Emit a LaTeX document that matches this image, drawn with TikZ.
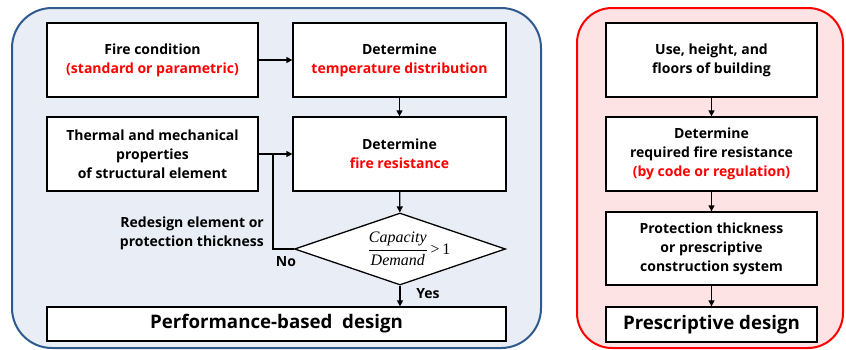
\documentclass[tikz,border=0pt]{standalone}
\usepackage{fontspec}
\setmainfont{Open Sans}
\newfontfamily\tms{Liberation Serif}
\usetikzlibrary{arrows.meta,shapes.geometric}
\definecolor{pbfill}{HTML}{E9EEF6}
\definecolor{pbline}{HTML}{2E5A8E}
\definecolor{prfill}{HTML}{FDE3E4}
\definecolor{prline}{HTML}{FF0000}
\definecolor{redtxt}{HTML}{FF0000}
\tikzset{
  fbox/.style={draw=black, fill=white, line width=1.3pt, align=center, inner sep=0pt,
    font=\bfseries\fontsize{14}{19}\selectfont},
  bigbox/.style={fbox, font=\bfseries\fontsize{18.7}{22}\selectfont},
  conn/.style={line width=1.3pt, -{Triangle[length=6pt,width=6pt]}},
  plain/.style={line width=1.3pt},
  lbl/.style={font=\bfseries\fontsize{14}{19}\selectfont, inner sep=0pt},
}
\begin{document}
\begin{tikzpicture}[x=1pt,y=-1pt]
\useasboundingbox (0,0) rectangle (846,349);
% panels
\draw[line width=2pt, draw=pbline, fill=pbfill, rounded corners=40pt] (12,8) rectangle (541,348);
\draw[line width=2pt, draw=prline, fill=prfill, rounded corners=35pt] (577,8) rectangle (843,348);
% left boxes
\node[fbox, minimum width=211pt, minimum height=74pt] (fc) at (152.5,60)
  {Fire condition\\\textcolor{redtxt}{(standard or parametric)}};
\node[fbox, minimum width=213pt, minimum height=74pt] (td) at (399.5,60)
  {Determine\\\textcolor{redtxt}{temperature distribution}};
\node[fbox, minimum width=211pt, minimum height=74pt] (th) at (152.5,154)
  {Thermal and mechanical\\properties\\of structural element};
\node[fbox, minimum width=213pt, minimum height=74pt] (fr) at (399.5,154)
  {Determine\\\textcolor{redtxt}{fire resistance}};
\node[draw=black, fill=white, line width=1.3pt, shape=diamond, aspect=2.93,
  minimum width=211pt, minimum height=72pt, inner sep=0pt] (dm) at (400,249)
  {\hspace*{18pt}\fontsize{16}{18}\selectfont$\displaystyle\frac{\mbox{\tms\itshape Capacity}}{\mbox{\tms\itshape Demand}}\mbox{\tms\,>\,1}$};
\node[bigbox, minimum width=459pt, minimum height=34pt] (pb) at (276.5,324)
  {Performance-based\ \ design};
% labels
\node[lbl, align=right, anchor=east] (rd) at (264,233) {Redesign element or\\protection thickness};
\node[lbl] (no) at (286,262) {No};
\node[lbl] (yes) at (428,294) {Yes};
% left connectors
\coordinate (fb) at (273,154);
\draw[conn] (fc) -- (td);
\draw[conn] (td) -- (fr);
\draw[conn] (th) -- (fr);
\draw[conn] (fr) -- (dm);
\draw[conn] (dm.south) -- (dm.south |- pb.north);
\draw[plain] (dm.west) -| (fb);
% right boxes
\node[fbox, minimum width=211pt, minimum height=74pt] (ub) at (711.5,60)
  {Use, height, and\\floors of building};
\node[fbox, minimum width=211pt, minimum height=74pt] (rq) at (711.5,154)
  {Determine\\required fire resistance\\\textcolor{redtxt}{(by code or regulation)}};
\node[fbox, minimum width=211pt, minimum height=73pt] (pt) at (711.5,248.5)
  {Protection thickness\\or prescriptive\\construction system};
\node[bigbox, minimum width=211pt, minimum height=35pt] (pd) at (711.5,324.5)
  {Prescriptive design};
\draw[conn] (ub) -- (rq);
\draw[conn] (rq) -- (pt);
\draw[conn] (pt) -- (pd);
\end{tikzpicture}
\end{document}
